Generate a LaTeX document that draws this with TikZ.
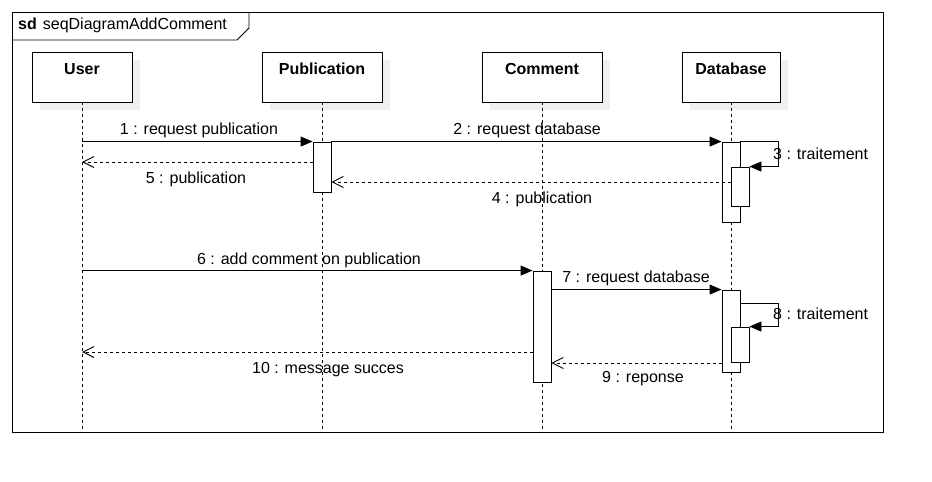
\documentclass[tikz,border=0pt]{standalone}
\usepackage{fontspec}
\setmainfont{Liberation Sans}
\usetikzlibrary{arrows.meta}
\begin{document}
\begin{tikzpicture}[x=1pt,y=-1pt,
  every node/.style={font=\fontsize{16}{19}\selectfont},
  head/.style={draw,fill=white,minimum height=50,inner sep=0,line width=0.9pt},
  shadowbox/.style={fill=black!6,draw=none,minimum height=50,inner sep=0},
  headtxt/.style={font=\fontsize{16}{19}\selectfont\bfseries,inner sep=0},
  lifeline/.style={dash pattern=on 3pt off 3pt,line width=0.9pt},
  act/.style={draw,fill=white,minimum width=18,inner sep=0,line width=0.9pt},
  msg/.style={line width=0.9pt,-{Triangle[length=12pt,width=10pt]}},
  ret/.style={line width=0.9pt,dash pattern=on 3pt off 3pt,-{Straight Barb[length=11pt,width=11pt]}},
  lbl/.style={inner sep=0}
]
\useasboundingbox (0,0) rectangle (932,482);
% frame
\draw[line width=0.9pt] (12,12) rectangle (883,432);
\draw[line width=0.9pt] (12,40) -- (237,40) -- (249,28) -- (249,12);
\node[lbl,anchor=west] (sdt) at (18,25.5) {\textbf{sd}\hspace{6pt}seqDiagramAddComment};
% shadows
\node[shadowbox,minimum width=100] (us) at (90,85) {};
\node[shadowbox,minimum width=120] (ps) at (330,85) {};
\node[shadowbox,minimum width=120] (cs) at (550,85) {};
\node[shadowbox,minimum width=98] (ds) at (739,85) {};
% heads
\node[head,minimum width=100] (user) at (82,77) {};
\node[head,minimum width=120] (pub) at (322,77) {};
\node[head,minimum width=120] (com) at (542,77) {};
\node[head,minimum width=98] (db) at (731,77) {};
\node[headtxt] (userT) at (82,69) {User};
\node[headtxt] (pubT) at (322,69) {Publication};
\node[headtxt] (comT) at (542,69) {Comment};
\node[headtxt] (dbT) at (731,69) {Database};
% lifeline ends
\coordinate (yend) at (0,432);
\draw[lifeline] (user.south) -- (user.south |- yend);
\draw[lifeline] (pub.south) -- (pub.south |- yend);
\draw[lifeline] (com.south) -- (com.south |- yend);
\draw[lifeline] (db.south) -- (db.south |- yend);
% activations
\node[act,minimum height=50] (pa) at (322,167) {};
\node[act,minimum height=80] (db1) at (731,182) {};
\node[act,minimum height=39] (dbi1) at (740,186.5) {};
\node[act,minimum height=111] (cm) at (542,326.5) {};
\node[act,minimum height=82] (db2) at (731,331) {};
\node[act,minimum height=35] (dbi2) at (740,344.5) {};
% y levels
\coordinate (y4) at (0,182);
\coordinate (y5) at (0,162);
\coordinate (y8) at (0,303);
\coordinate (y9) at (0,363);
\coordinate (y10) at (0,352);
% messages
\draw[msg] (user.south |- pa.north west) -- (pa.north west);
\draw[msg] (pa.north east) -- (db1.north west);
\draw[msg] (db1.north east) -- ++(38,0) |- (dbi1.north east);
\draw[ret] (dbi1.west |- y4) -- (pa.east |- y4);
\draw[ret] (pa.west |- y5) -- (user.south |- y5);
\draw[msg] (user.south |- cm.north) -- (cm.north west);
\draw[msg] (cm.east |- db2.north) -- (db2.north west);
\draw[msg] (db2.east |- y8) -- ++(38,0) |- (dbi2.north east);
\draw[ret] (db2.west |- y9) -- (cm.east |- y9);
\draw[ret] (cm.west |- y10) -- (user.south |- y10);
% labels
\node[lbl] (l1) at (199,130) {1 : request publication};
\node[lbl] (l2) at (527,130) {2 : request database};
\node[lbl,anchor=west] (l3) at (773,154) {3 : traitement};
\node[lbl] (l4) at (542,199) {4 : publication};
\node[lbl] (l5) at (196,179) {5 : publication};
\node[lbl] (l6) at (309,260) {6 : add comment on publication};
\node[lbl] (l7) at (636,278) {7 : request database};
\node[lbl,anchor=west] (l8) at (773,314) {8 : traitement};
\node[lbl] (l9) at (643,379) {9 : reponse};
\node[lbl] (l10) at (328,370) {10 : message succes};
\end{tikzpicture}
\end{document}
